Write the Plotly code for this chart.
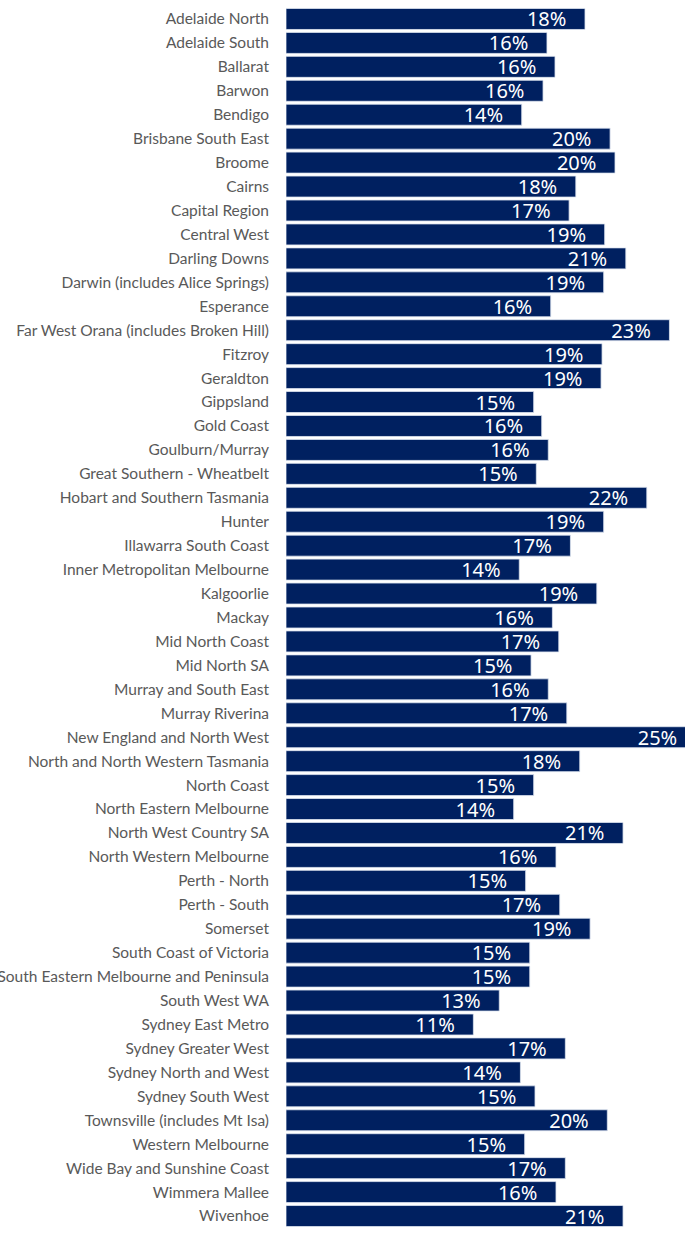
import plotly.graph_objects as go

# Share of respondents by region (percent)
regions = [
    "Adelaide North", "Adelaide South", "Ballarat", "Barwon", "Bendigo",
    "Brisbane South East", "Broome", "Cairns", "Capital Region", "Central West",
    "Darling Downs", "Darwin (includes Alice Springs)", "Esperance",
    "Far West Orana (includes Broken Hill)", "Fitzroy", "Geraldton", "Gippsland",
    "Gold Coast", "Goulburn/Murray", "Great Southern - Wheatbelt",
    "Hobart and Southern Tasmania", "Hunter", "Illawarra South Coast",
    "Inner Metropolitan Melbourne", "Kalgoorlie", "Mackay", "Mid North Coast",
    "Mid North SA", "Murray and South East", "Murray Riverina",
    "New England and North West", "North and North Western Tasmania",
    "North Coast", "North Eastern Melbourne", "North West Country SA",
    "North Western Melbourne", "Perth - North", "Perth - South", "Somerset",
    "South Coast of Victoria", "South Eastern Melbourne and Peninsula",
    "South West WA", "Sydney East Metro", "Sydney Greater West",
    "Sydney North and West", "Sydney South West", "Townsville (includes Mt Isa)",
    "Western Melbourne", "Wide Bay and Sunshine Coast", "Wimmera Mallee",
    "Wivenhoe",
]

share_pct = [
    18.24, 15.92, 16.41, 15.68, 14.38,
    19.77, 20.07, 17.68, 17.27, 19.44,
    20.73, 19.38, 16.15,
    23.39, 19.28, 19.22, 15.11,
    15.60, 16.00, 15.27,
    22.01, 19.38, 17.35,
    14.23, 18.96, 16.25, 16.64,
    14.95, 16.00, 17.13,
    25.00, 17.92,
    15.11, 13.89, 20.56,
    16.47, 14.62, 16.70, 18.55,
    14.87, 14.87,
    13.01, 11.43, 17.04,
    14.30, 15.19, 19.60,
    14.56, 17.04, 16.47,
    20.56,
]

NAVY = "#002060"
PAD = "\u00a0\u00a0\u00a0"

fig = go.Figure(
    go.Bar(
        x=share_pct,
        y=regions,
        orientation="h",
        marker=dict(color=NAVY, line=dict(color="#dde4f0", width=0.8)),
        texttemplate="%{x:.0f}%" + PAD,
        textposition="inside",
        insidetextanchor="end",
        textangle=0,
        constraintext="none",
        insidetextfont=dict(family="Noto Sans, Open Sans, sans-serif", size=20, color="white"),
        hoverinfo="skip",
    )
)

fig.update_layout(
    width=685,
    height=1234,
    margin=dict(l=286, r=0, t=7, b=6),
    paper_bgcolor="white",
    plot_bgcolor="white",
    bargap=0.123,
    showlegend=False,
)

fig.update_xaxes(
    range=[0, 24.34],
    visible=False,
    showgrid=False,
    zeroline=False,
)

fig.update_yaxes(
    autorange="reversed",
    automargin=False,
    showgrid=False,
    zeroline=False,
    showline=False,
    ticks="",
    ticklabelstandoff=16,
    tickfont=dict(family="Lato, sans-serif", size=15.5, color="#595959"),
)

fig.write_html("out.html")
